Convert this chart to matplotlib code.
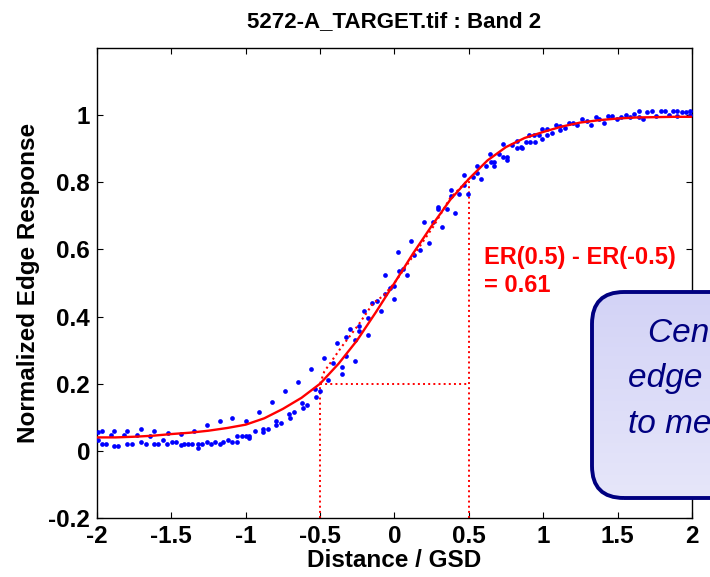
import numpy as np
import matplotlib
matplotlib.use("Agg")
import matplotlib.pyplot as plt
from matplotlib.patches import FancyBboxPatch

# edge samples (distance / GSD, normalized response)
dist = [-1.995, -1.995, -1.968, -1.968, -1.942, -1.908, -1.884, -1.884, -1.857, -1.821,
        -1.796, -1.796, -1.763, -1.733, -1.706, -1.706, -1.673, -1.644, -1.619, -1.619,
        -1.588, -1.558, -1.531, -1.525, -1.498, -1.471, -1.437, -1.437, -1.413, -1.386,
        -1.359, -1.350, -1.323, -1.323, -1.296, -1.263, -1.263, -1.236, -1.207, -1.175,
        -1.175, -1.151, -1.121, -1.090, -1.090, -1.061, -1.061, -1.027, -1.000, -1.000,
        -0.976, -0.976, -0.938, -0.911, -0.882, -0.882, -0.852, -0.826, -0.799, -0.799,
        -0.765, -0.738, -0.711, -0.705, -0.676, -0.651, -0.624, -0.615, -0.588, -0.561,
        -0.534, -0.530, -0.501, -0.474, -0.445, -0.411, -0.387, -0.355, -0.355, -0.328,
        -0.326, -0.299, -0.268, -0.266, -0.239, -0.237, -0.205, -0.178, -0.178, -0.151,
        -0.118, -0.091, -0.064, -0.062, -0.030, -0.003, -0.003, 0.026, 0.032, 0.059,
        0.084, 0.113, 0.133, 0.171, 0.200, 0.234, 0.261, 0.290, 0.294, 0.321,
        0.351, 0.380, 0.380, 0.409, 0.436, 0.467, 0.467, 0.496, 0.530, 0.557,
        0.557, 0.584, 0.617, 0.642, 0.647, 0.671, 0.671, 0.705, 0.731, 0.731,
        0.758, 0.758, 0.792, 0.822, 0.822, 0.848, 0.855, 0.882, 0.906, 0.911,
        0.938, 0.943, 0.969, 0.994, 0.994, 1.027, 1.027, 1.057, 1.084, 1.115,
        1.115, 1.144, 1.171, 1.200, 1.229, 1.258, 1.292, 1.319, 1.353, 1.377,
        1.406, 1.437, 1.464, 1.494, 1.523, 1.554, 1.583, 1.612, 1.642, 1.642,
        1.673, 1.700, 1.729, 1.758, 1.790, 1.817, 1.845, 1.874, 1.901, 1.901,
        1.933, 1.960, 1.987, 1.987]
resp = [0.056, 0.031, 0.060, 0.021, 0.021, 0.048, 0.060, 0.015, 0.015, 0.048,
        0.060, 0.021, 0.021, 0.046, 0.065, 0.026, 0.021, 0.045, 0.060, 0.021,
        0.021, 0.033, 0.021, 0.053, 0.027, 0.027, 0.049, 0.018, 0.021, 0.021,
        0.021, 0.060, 0.021, 0.009, 0.021, 0.077, 0.026, 0.021, 0.026, 0.089,
        0.021, 0.026, 0.033, 0.097, 0.026, 0.026, 0.045, 0.045, 0.090, 0.045,
        0.045, 0.039, 0.060, 0.115, 0.065, 0.057, 0.065, 0.144, 0.090, 0.077,
        0.083, 0.179, 0.109, 0.097, 0.116, 0.205, 0.143, 0.127, 0.137, 0.244,
        0.184, 0.161, 0.179, 0.278, 0.211, 0.261, 0.322, 0.251, 0.230, 0.283,
        0.340, 0.364, 0.269, 0.329, 0.373, 0.357, 0.418, 0.395, 0.346, 0.441,
        0.447, 0.416, 0.525, 0.467, 0.485, 0.491, 0.452, 0.593, 0.537, 0.542,
        0.525, 0.626, 0.583, 0.598, 0.682, 0.620, 0.682, 0.725, 0.719, 0.666,
        0.720, 0.778, 0.759, 0.709, 0.766, 0.823, 0.792, 0.766, 0.816, 0.849,
        0.828, 0.810, 0.849, 0.883, 0.861, 0.861, 0.849, 0.883, 0.913, 0.876,
        0.876, 0.866, 0.911, 0.923, 0.901, 0.906, 0.901, 0.921, 0.940, 0.919,
        0.940, 0.921, 0.940, 0.958, 0.928, 0.958, 0.940, 0.946, 0.970, 0.968,
        0.957, 0.963, 0.978, 0.978, 0.970, 0.990, 0.984, 0.972, 0.995, 0.988,
        0.977, 0.996, 0.996, 0.990, 0.995, 1.000, 0.995, 1.002, 1.013, 0.995,
        0.988, 1.008, 1.013, 0.997, 1.013, 1.013, 1.000, 1.013, 1.013, 0.998,
        1.008, 1.008, 1.013, 1.000]

# fitted edge response
fit_x = [-2.0, -1.875, -1.75, -1.625, -1.5, -1.375, -1.25, -1.125, -1.0, -0.875,
         -0.75, -0.625, -0.5, -0.375, -0.25, -0.125, 0.0, 0.125, 0.25, 0.375,
         0.5, 0.625, 0.75, 0.875, 1.0, 1.125, 1.25, 1.375, 1.5, 1.625,
         1.75, 1.875, 2.0]
fit_y = [0.040, 0.040, 0.042, 0.045, 0.050, 0.054, 0.060, 0.068, 0.078, 0.097,
         0.125, 0.158, 0.200, 0.260, 0.330, 0.413, 0.500, 0.588, 0.670, 0.748,
         0.810, 0.865, 0.905, 0.932, 0.950, 0.966, 0.978, 0.985, 0.990, 0.993,
         0.994, 0.995, 0.995]

# dotted trace between the +/-0.5 GSD points
dot_x = [-0.5, -0.472, -0.355, -0.243, -0.143, -0.075, 0.0, 0.145, 0.261, 0.373, 0.5]
dot_y = [0.20, 0.236, 0.31, 0.375, 0.44, 0.462, 0.50, 0.593, 0.668, 0.752, 0.81]

er_lo, er_hi = 0.20, 0.81
x_ticks = [-2, -1.5, -1, -0.5, 0, 0.5, 1, 1.5, 2]
x_labels = ["-2", "-1.5", "-1", "-0.5", "0", "0.5", "1", "1.5", "2"]
y_ticks = [-0.2, 0, 0.2, 0.4, 0.6, 0.8, 1]
y_labels = ["-0.2", "0", "0.2", "0.4", "0.6", "0.8", "1"]

plt.rcParams["font.family"] = ["Liberation Sans", "DejaVu Sans"]
plt.rcParams["font.weight"] = "bold"

fig = plt.figure(figsize=(7.1, 5.77), dpi=100)
ax = fig.add_axes([0.1366, 0.1023, 0.838, 0.8145])

ax.plot(dist, resp, "o", color="#0000ff", markersize=3.4, markeredgewidth=0, zorder=3)
ax.plot(fit_x, fit_y, "-", color="#ff0000", lw=1.7, zorder=4)
ax.plot(dot_x, dot_y, ":", color="#ff0000", lw=1.5, zorder=4)
ax.plot([-0.5, -0.5], [-0.2, er_lo], ":", color="#ff0000", lw=1.4)
ax.plot([-0.5, 0.5], [er_lo, er_lo], ":", color="#ff0000", lw=1.4)
ax.plot([0.5, 0.5], [-0.2, er_hi], ":", color="#ff0000", lw=1.4)

ax.text(0.6, 0.61, "ER(0.5) - ER(-0.5)\n= 0.61", color="#ff0000", fontsize=17,
        fontweight="bold", ha="left", va="top", linespacing=1.25)

ax.set_xlim(-2, 2)
ax.set_ylim(-0.2, 1.2)
ax.set_xticks(x_ticks)
ax.set_xticklabels(x_labels)
ax.set_yticks(y_ticks)
ax.set_yticklabels(y_labels)
ax.tick_params(direction="in", length=4, width=0.8, top=True, right=True,
               labelsize=17.5, pad=5)
for s in ax.spines.values():
    s.set_linewidth(1.0)

ax.set_title("5272-A_TARGET.tif : Band 2", fontsize=16, fontweight="bold", pad=15)
ax.set_xlabel("Distance / GSD", fontsize=17.5, fontweight="bold", labelpad=1)
ax.set_ylabel("Normalized Edge Response", fontsize=17.5, fontweight="bold", labelpad=6)

# callout box, cut by the right edge of the figure as in the source slide
W, H = 710.0, 577.0
bx0, by0, bx1, by1 = 592, 292, 830, 498
box = FancyBboxPatch((bx0 / W, 1 - by1 / H), (bx1 - bx0) / W, (by1 - by0) / H,
                     boxstyle="round,pad=0,rounding_size=0.045",
                     transform=fig.transFigure, facecolor="none",
                     edgecolor="#000080", lw=2.8, zorder=10, mutation_aspect=W / H)
fig.patches.append(box)
grad = np.linspace(0, 1, 64).reshape(-1, 1)
bg = fig.add_axes([bx0 / W, 1 - by1 / H, (bx1 - bx0) / W, (by1 - by0) / H], zorder=9)
bg.imshow(grad, cmap=matplotlib.colors.LinearSegmentedColormap.from_list(
    "lav", ["#d3d3f6", "#e6e6fa"]), aspect="auto", extent=[0, 1, 0, 1],
    transform=bg.transAxes)
bg.set_axis_off()
clip = FancyBboxPatch((bx0 / W, 1 - by1 / H), (bx1 - bx0) / W, (by1 - by0) / H,
                      boxstyle="round,pad=0,rounding_size=0.045",
                      transform=fig.transFigure, mutation_aspect=W / H)
bg.images[0].set_clip_path(clip)

for txt, px, py in [("Center of", 648, 342), ("edge used", 628, 387), ("to measure", 628, 433)]:
    fig.text(px / W, 1 - py / H, txt, color="#000080", fontsize=24, fontstyle="italic",
             fontweight="normal", ha="left", va="baseline", zorder=11)

fig.savefig("out.png", dpi=100)
